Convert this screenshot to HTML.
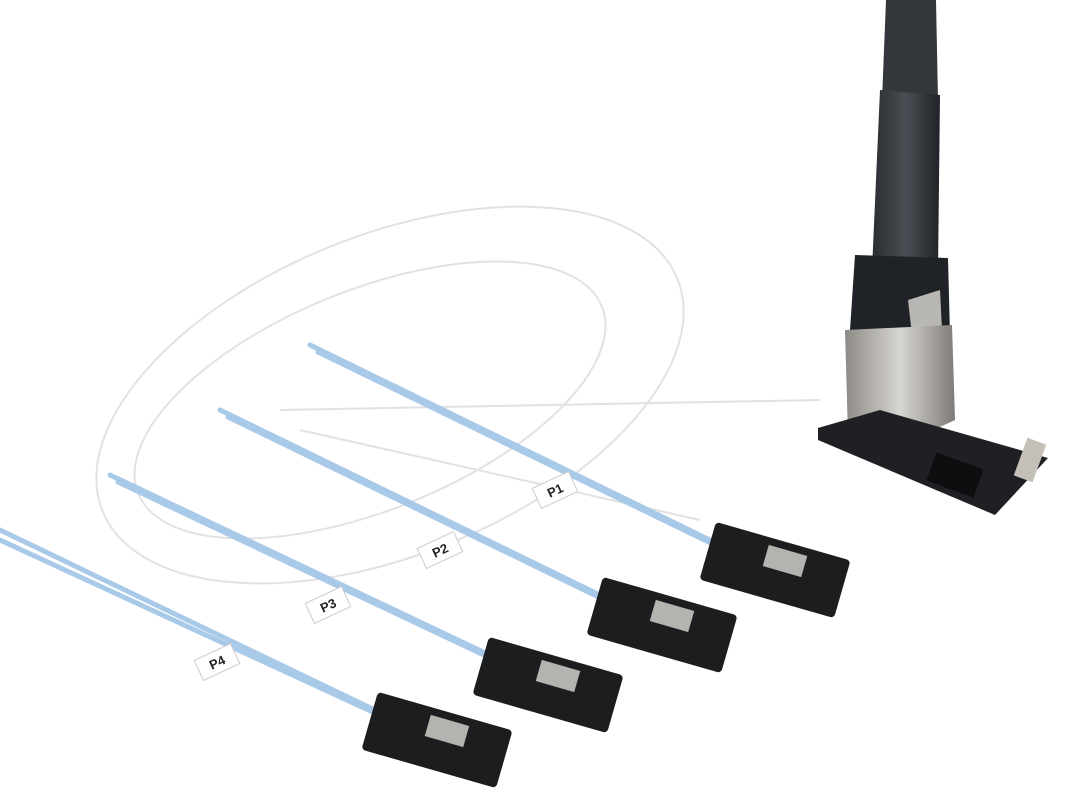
<!DOCTYPE html>
<html><head><meta charset="utf-8"><style>html,body{margin:0;padding:0;background:#fff}svg{display:block}</style></head>
<body>
<svg width="1076" height="796" viewBox="0 0 1076 796" xmlns="http://www.w3.org/2000/svg">
<rect width="1076" height="796" fill="#fff"/>
<g fill="none" stroke="#e2e2e2" stroke-width="2">
<ellipse cx="390" cy="395" rx="310" ry="160" transform="rotate(-22 390 395)"/>
<ellipse cx="370" cy="400" rx="250" ry="110" transform="rotate(-22 370 400)"/>
<path d="M280 410 L820 400"/>
<path d="M300 430 L700 520"/>
</g>
<defs>
<linearGradient id="bc" x1="0" x2="1"><stop offset="0" stop-color="#2a2d31"/><stop offset="0.5" stop-color="#4a4e54"/><stop offset="1" stop-color="#1f2226"/></linearGradient>
<linearGradient id="mt" x1="0" x2="1"><stop offset="0" stop-color="#8d8a85"/><stop offset="0.5" stop-color="#d8d6d2"/><stop offset="1" stop-color="#7e7b77"/></linearGradient>
</defs>
<!-- black cable -->
<path d="M886 0 L936 0 L938 100 L882 100 Z" fill="#33363b"/>
<path d="M880 90 L940 95 L938 270 L872 270 Z" fill="url(#bc)"/>
<!-- housing -->
<path d="M855 255 L948 258 L950 335 L850 330 Z" fill="#1f2226"/>
<path d="M908 300 L940 290 L942 330 L912 335 Z" fill="#b9b7b3"/>
<!-- metal -->
<path d="M845 330 L952 325 L955 420 L890 450 L848 435 Z" fill="url(#mt)"/>
<!-- pcb -->
<path d="M818 428 L880 410 L1048 458 L995 515 L818 440 Z" fill="#1e2023"/>
<rect x="930" y="460" width="50" height="30" fill="#0d0e10" transform="rotate(20 955 475)"/>
<rect x="1020" y="440" width="20" height="40" fill="#c4c0b8" transform="rotate(20 1030 460)"/>
<!-- blue cables -->
<g stroke="#a8c9e8" stroke-width="5" fill="none" stroke-linecap="round">
<path d="M310 345 L720 545"/><path d="M318 352 L725 550"/>
<path d="M220 410 L610 600"/><path d="M228 417 L615 605"/>
<path d="M110 475 L500 660"/><path d="M118 482 L505 665"/>
<path d="M0 530 L385 715"/><path d="M0 540 L390 720"/>
</g>
<!-- connectors -->
<g fill="#1c1d1f">
<rect x="705" y="540" width="140" height="60" rx="4" transform="rotate(16 775 570)"/>
<rect x="592" y="595" width="140" height="60" rx="4" transform="rotate(16 662 625)"/>
<rect x="478" y="655" width="140" height="60" rx="4" transform="rotate(16 548 685)"/>
<rect x="367" y="710" width="140" height="60" rx="4" transform="rotate(16 437 740)"/>
</g>
<g fill="#b5b3af">
<rect x="765" y="550" width="40" height="22" transform="rotate(16 785 561)"/>
<rect x="652" y="605" width="40" height="22" transform="rotate(16 672 616)"/>
<rect x="538" y="665" width="40" height="22" transform="rotate(16 558 676)"/>
<rect x="427" y="720" width="40" height="22" transform="rotate(16 447 731)"/>
</g>
<!-- labels -->
<g font-family="Liberation Sans, sans-serif" font-size="13" font-weight="bold" fill="#222">
<g transform="translate(555 490) rotate(-25)"><rect x="-20" y="-11" width="40" height="22" fill="#fff" stroke="#ccc"/><text x="0" y="5" text-anchor="middle">P1</text></g>
<g transform="translate(440 550) rotate(-25)"><rect x="-20" y="-11" width="40" height="22" fill="#fff" stroke="#ccc"/><text x="0" y="5" text-anchor="middle">P2</text></g>
<g transform="translate(328 605) rotate(-25)"><rect x="-20" y="-11" width="40" height="22" fill="#fff" stroke="#ccc"/><text x="0" y="5" text-anchor="middle">P3</text></g>
<g transform="translate(217 662) rotate(-25)"><rect x="-20" y="-11" width="40" height="22" fill="#fff" stroke="#ccc"/><text x="0" y="5" text-anchor="middle">P4</text></g>
</g>
</svg>
</body></html>
